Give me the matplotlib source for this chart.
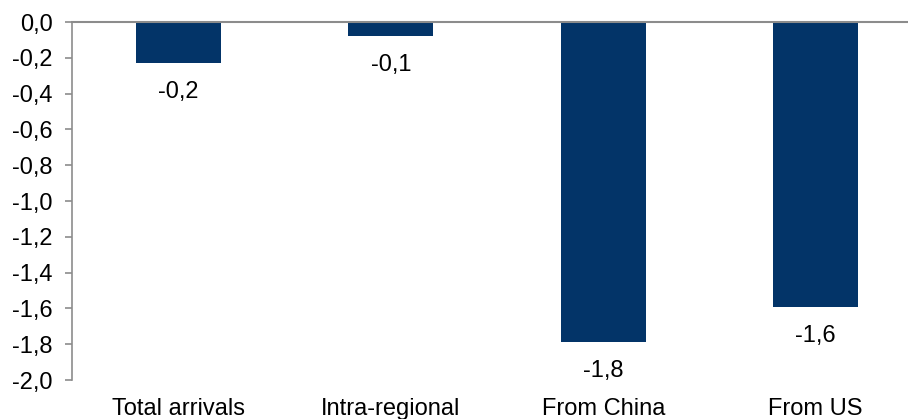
import numpy as np
import matplotlib.pyplot as plt

plt.rcParams['font.family'] = ['Liberation Sans', 'DejaVu Sans']

categories = ['Total arrivals', 'Intra-regional', 'From China', 'From US']
values = [-0.23, -0.08, -1.79, -1.59]
yticks = np.round(np.arange(0, -2.01, -0.2), 1)

fig = plt.figure(figsize=(9.08, 4.19), dpi=100)
ax = fig.add_axes([72 / 908, 1 - 380 / 419, 850 / 908, 358 / 419])

x = np.arange(len(categories))
bars = ax.bar(x, values, width=0.4, color='#033468')

for b, v in zip(bars, values):
    ax.annotate(f'{v:.1f}'.replace('.', ','),
                (b.get_x() + b.get_width() / 2, v),
                xytext=(0, -13), textcoords='offset points',
                ha='center', va='top', fontsize=17)

ax.set_xlim(-0.5, 3.5)
ax.set_ylim(-2.0, 0.0)
ax.set_yticks(yticks)
ax.set_yticklabels([f'{t:.1f}'.replace('.', ',') for t in yticks], fontsize=17)
ax.set_xticks(x)
ax.set_xticklabels(categories, fontsize=17)

ax.tick_params(axis='x', length=0, pad=13)
ax.tick_params(axis='y', length=5, width=1.2, color='#8c8c8c', pad=9)

for s in ['top', 'right', 'bottom']:
    ax.spines[s].set_visible(False)
ax.spines['left'].set_color('#8c8c8c')
ax.spines['left'].set_linewidth(1.2)
ax.axhline(0, color='#8c8c8c', lw=1.5, clip_on=False, zorder=3)

fig.savefig('out.png', dpi=100)
